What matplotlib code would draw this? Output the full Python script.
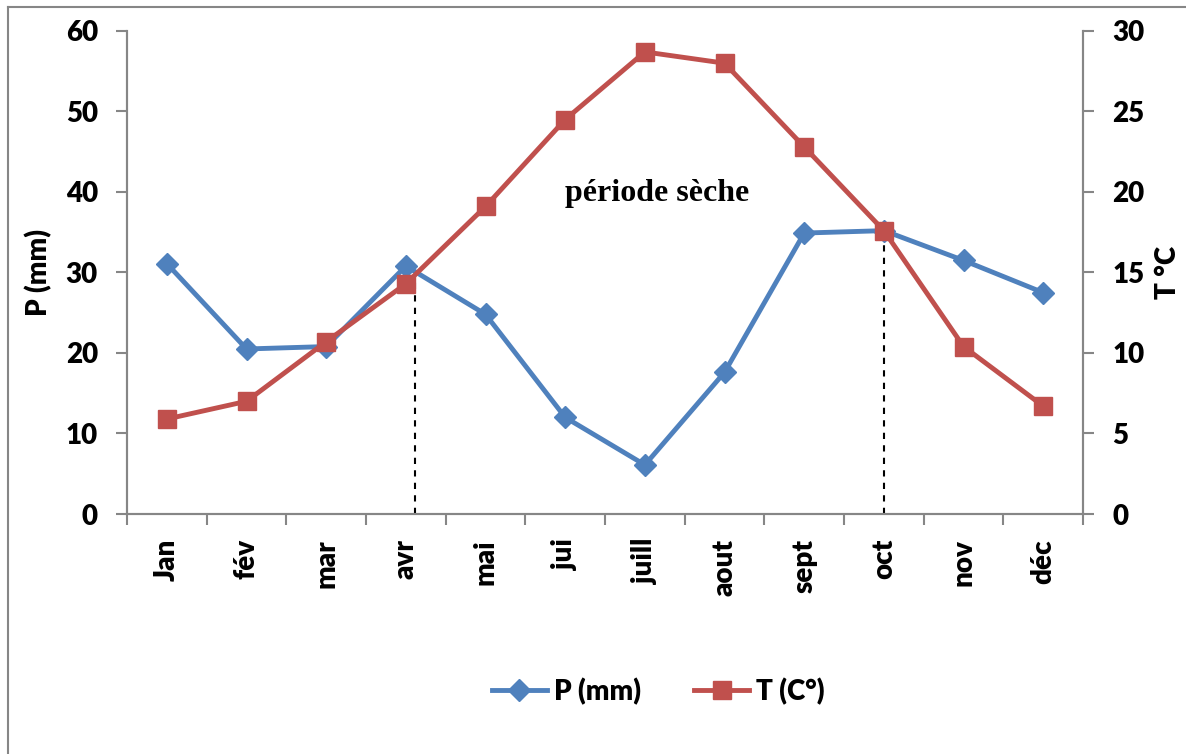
import matplotlib.pyplot as plt
from matplotlib.lines import Line2D

months = ['Jan', 'fév', 'mar', 'avr', 'mai', 'jui', 'juill', 'aout', 'sept', 'oct', 'nov', 'déc']
precip = [31.1, 20.5, 20.8, 30.8, 24.8, 12.0, 6.1, 17.6, 34.9, 35.2, 31.5, 27.5]
temp = [5.9, 7.0, 10.7, 14.3, 19.1, 24.5, 28.7, 28.0, 22.8, 17.6, 10.4, 6.7]
# dashed limits of the dry period (x as month index, top as P value)
dry_x = [3.12, 9.0]
dry_top = [30.9, 34.5]

blue = '#4F81BD'
red = '#C0504D'
grey = '#868686'
W = 'heavy'
FS = 20
plt.rcParams['font.family'] = ['Lato', 'DejaVu Sans']
plt.rcParams['font.weight'] = W

fig = plt.figure(figsize=(11.86, 7.54), dpi=100)
ax = fig.add_axes([0.1071, 0.3183, 0.8061, 0.6406])
ax2 = ax.twinx()

x = list(range(len(months)))
ax.plot(x, precip, color=blue, lw=3.5, marker='D', ms=11, zorder=3)
ax2.plot(x, temp, color=red, lw=3.5, marker='s', ms=13, zorder=3)
for xi, top in zip(dry_x, dry_top):
    ax.plot([xi, xi], [0, top], color='black', lw=1.5, ls=(0, (3, 3)), zorder=2)

ax.set_xlim(-0.5, 11.5)
ax.set_ylim(0, 60)
ax2.set_ylim(0, 30)
ax.set_yticks(range(0, 61, 10))
ax2.set_yticks(range(0, 31, 5))
ax.set_xticks([i - 0.5 for i in range(13)], minor=False)
ax.set_xticklabels([])
ax.set_xticks(x, minor=True)
ax.set_xticklabels(months, minor=True, rotation=90, fontsize=FS, fontweight=W)
ax.tick_params(axis='x', which='major', length=8, width=1.5, color=grey, direction='out')
ax.tick_params(axis='x', which='minor', length=0, pad=18)
ax.tick_params(axis='y', length=8, width=1.5, color=grey, labelsize=FS, pad=13)
ax2.tick_params(axis='y', length=8, width=1.5, color=grey, labelsize=FS, pad=13)
for a in (ax, ax2):
    a.spines['top'].set_visible(False)
    for s in ('left', 'right', 'bottom'):
        a.spines[s].set_color(grey)
        a.spines[s].set_linewidth(1.5)
    for lab in a.get_yticklabels():
        lab.set_fontweight(W)

ax.set_ylabel('P (mm)', fontsize=FS, fontweight=W, labelpad=10)
ax2.set_ylabel('T °C', fontsize=FS, fontweight=W, labelpad=8)

ax.text(6.15, 39.8, 'période sèche', fontsize=23, fontweight='bold',
        family='Liberation Serif', ha='center', va='center')

handles = [Line2D([], [], color=blue, lw=3.5, marker='D', ms=11),
           Line2D([], [], color=red, lw=3.5, marker='s', ms=13)]
fig.legend(handles, ['P (mm)', 'T (C°)'], loc='center', bbox_to_anchor=(0.555, 0.083),
           ncol=2, frameon=False, handlelength=2.0, handletextpad=0.25, columnspacing=1.9,
           prop={'weight': W, 'size': FS})

fig.add_artist(Line2D([0.0067, 0.0067], [0, 0.991], transform=fig.transFigure, color=grey, lw=1.5))
fig.add_artist(Line2D([0.0067, 1], [0.991, 0.991], transform=fig.transFigure, color=grey, lw=1.5))

fig.savefig('out.png', dpi=100)
